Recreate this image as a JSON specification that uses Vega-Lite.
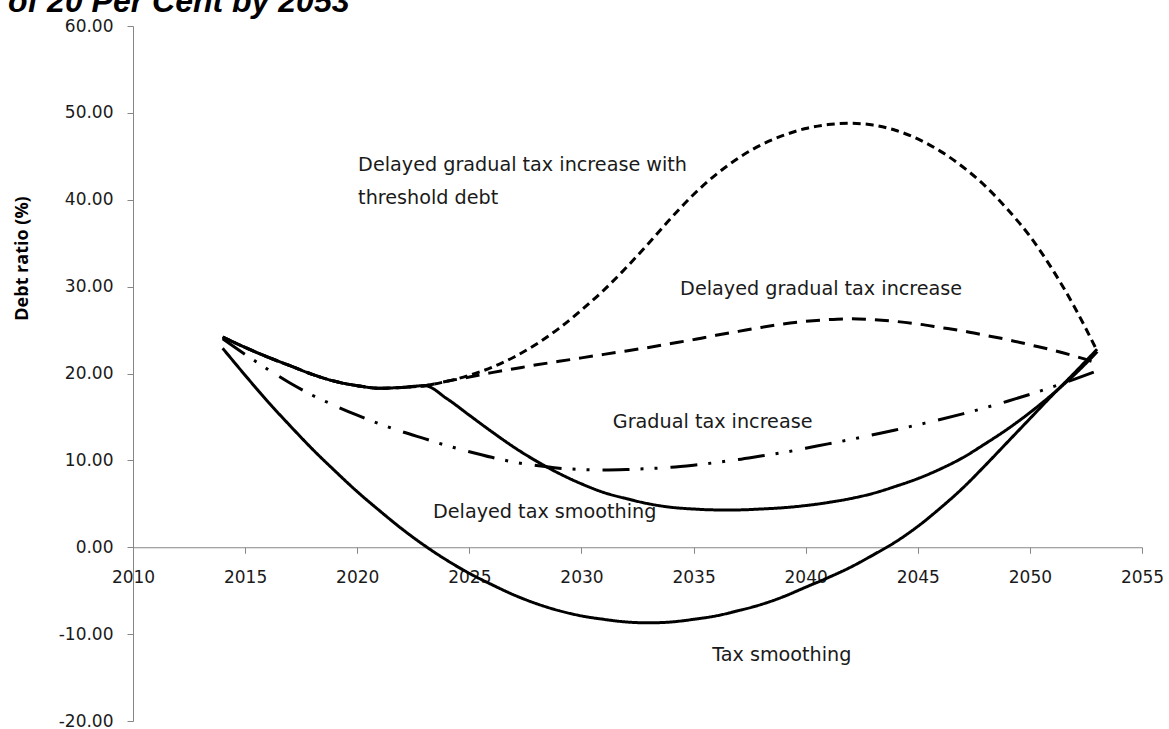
{
  "$schema": "https://vega.github.io/schema/vega-lite/v6.json",
  "autosize": {"type": "none"},
  "width": 1009,
  "height": 695,
  "padding": {"left": 133, "top": 26, "right": 27, "bottom": 8},
  "background": "white",
  "title": {
    "text": "of 20 Per Cent by 2053",
    "anchor": "start",
    "frame": "group",
    "dx": -125,
    "dy": 27,
    "offset": 0,
    "baseline": "alphabetic",
    "font": "Liberation Sans",
    "fontSize": 32,
    "fontWeight": "bold",
    "fontStyle": "italic",
    "color": "#000000"
  },
  "config": {
    "view": {"stroke": null},
    "axis": {
      "grid": false,
      "domainColor": "#868686",
      "tickColor": "#868686",
      "labelFont": "DejaVu Sans",
      "labelFontSize": 17,
      "labelColor": "#1a1a1a",
      "titleFont": "Open Sans",
      "titleColor": "#000000"
    }
  },
  "layer": [
    {
      "data": {
        "values": [
          {"series": "Tax smoothing", "year": 2014, "value": 22.9},
          {"series": "Tax smoothing", "year": 2015, "value": 19.8},
          {"series": "Tax smoothing", "year": 2016, "value": 16.8},
          {"series": "Tax smoothing", "year": 2017, "value": 14.0},
          {"series": "Tax smoothing", "year": 2018, "value": 11.3},
          {"series": "Tax smoothing", "year": 2019, "value": 8.8},
          {"series": "Tax smoothing", "year": 2020, "value": 6.4},
          {"series": "Tax smoothing", "year": 2021, "value": 4.2},
          {"series": "Tax smoothing", "year": 2022, "value": 2.1},
          {"series": "Tax smoothing", "year": 2023, "value": 0.2},
          {"series": "Tax smoothing", "year": 2024, "value": -1.5},
          {"series": "Tax smoothing", "year": 2025, "value": -3.0},
          {"series": "Tax smoothing", "year": 2026, "value": -4.3},
          {"series": "Tax smoothing", "year": 2027, "value": -5.5},
          {"series": "Tax smoothing", "year": 2028, "value": -6.5},
          {"series": "Tax smoothing", "year": 2029, "value": -7.3},
          {"series": "Tax smoothing", "year": 2030, "value": -7.9},
          {"series": "Tax smoothing", "year": 2031, "value": -8.3},
          {"series": "Tax smoothing", "year": 2032, "value": -8.6},
          {"series": "Tax smoothing", "year": 2033, "value": -8.7},
          {"series": "Tax smoothing", "year": 2034, "value": -8.6},
          {"series": "Tax smoothing", "year": 2035, "value": -8.3},
          {"series": "Tax smoothing", "year": 2036, "value": -7.9},
          {"series": "Tax smoothing", "year": 2037, "value": -7.3},
          {"series": "Tax smoothing", "year": 2038, "value": -6.6},
          {"series": "Tax smoothing", "year": 2039, "value": -5.7},
          {"series": "Tax smoothing", "year": 2040, "value": -4.6},
          {"series": "Tax smoothing", "year": 2041, "value": -3.5},
          {"series": "Tax smoothing", "year": 2042, "value": -2.3},
          {"series": "Tax smoothing", "year": 2043, "value": -0.9},
          {"series": "Tax smoothing", "year": 2044, "value": 0.6},
          {"series": "Tax smoothing", "year": 2045, "value": 2.4},
          {"series": "Tax smoothing", "year": 2046, "value": 4.5},
          {"series": "Tax smoothing", "year": 2047, "value": 6.8},
          {"series": "Tax smoothing", "year": 2048, "value": 9.4},
          {"series": "Tax smoothing", "year": 2049, "value": 12.1},
          {"series": "Tax smoothing", "year": 2050, "value": 14.8},
          {"series": "Tax smoothing", "year": 2051, "value": 17.5},
          {"series": "Tax smoothing", "year": 2052, "value": 20.1},
          {"series": "Tax smoothing", "year": 2053, "value": 22.8},

          {"series": "Delayed tax smoothing", "year": 2014, "value": 24.2},
          {"series": "Delayed tax smoothing", "year": 2015, "value": 23.0},
          {"series": "Delayed tax smoothing", "year": 2016, "value": 21.9},
          {"series": "Delayed tax smoothing", "year": 2017, "value": 20.9},
          {"series": "Delayed tax smoothing", "year": 2018, "value": 19.9},
          {"series": "Delayed tax smoothing", "year": 2019, "value": 19.1},
          {"series": "Delayed tax smoothing", "year": 2020, "value": 18.6},
          {"series": "Delayed tax smoothing", "year": 2021, "value": 18.3},
          {"series": "Delayed tax smoothing", "year": 2022, "value": 18.4},
          {"series": "Delayed tax smoothing", "year": 2023, "value": 18.6},
          {"series": "Delayed tax smoothing", "year": 2024, "value": 17.1},
          {"series": "Delayed tax smoothing", "year": 2025, "value": 15.2},
          {"series": "Delayed tax smoothing", "year": 2026, "value": 13.3},
          {"series": "Delayed tax smoothing", "year": 2027, "value": 11.5},
          {"series": "Delayed tax smoothing", "year": 2028, "value": 9.9},
          {"series": "Delayed tax smoothing", "year": 2029, "value": 8.5},
          {"series": "Delayed tax smoothing", "year": 2030, "value": 7.3},
          {"series": "Delayed tax smoothing", "year": 2031, "value": 6.3},
          {"series": "Delayed tax smoothing", "year": 2032, "value": 5.6},
          {"series": "Delayed tax smoothing", "year": 2033, "value": 5.0},
          {"series": "Delayed tax smoothing", "year": 2034, "value": 4.6},
          {"series": "Delayed tax smoothing", "year": 2035, "value": 4.4},
          {"series": "Delayed tax smoothing", "year": 2036, "value": 4.3},
          {"series": "Delayed tax smoothing", "year": 2037, "value": 4.3},
          {"series": "Delayed tax smoothing", "year": 2038, "value": 4.4},
          {"series": "Delayed tax smoothing", "year": 2039, "value": 4.55},
          {"series": "Delayed tax smoothing", "year": 2040, "value": 4.8},
          {"series": "Delayed tax smoothing", "year": 2041, "value": 5.15},
          {"series": "Delayed tax smoothing", "year": 2042, "value": 5.6},
          {"series": "Delayed tax smoothing", "year": 2043, "value": 6.2},
          {"series": "Delayed tax smoothing", "year": 2044, "value": 7.0},
          {"series": "Delayed tax smoothing", "year": 2045, "value": 7.9},
          {"series": "Delayed tax smoothing", "year": 2046, "value": 9.0},
          {"series": "Delayed tax smoothing", "year": 2047, "value": 10.3},
          {"series": "Delayed tax smoothing", "year": 2048, "value": 11.9},
          {"series": "Delayed tax smoothing", "year": 2049, "value": 13.6},
          {"series": "Delayed tax smoothing", "year": 2050, "value": 15.5},
          {"series": "Delayed tax smoothing", "year": 2051, "value": 17.6},
          {"series": "Delayed tax smoothing", "year": 2052, "value": 19.9},
          {"series": "Delayed tax smoothing", "year": 2053, "value": 22.5},

          {"series": "Gradual tax increase", "year": 2014, "value": 24.0},
          {"series": "Gradual tax increase", "year": 2015, "value": 22.2},
          {"series": "Gradual tax increase", "year": 2016, "value": 20.5},
          {"series": "Gradual tax increase", "year": 2017, "value": 18.9},
          {"series": "Gradual tax increase", "year": 2018, "value": 17.5},
          {"series": "Gradual tax increase", "year": 2019, "value": 16.3},
          {"series": "Gradual tax increase", "year": 2020, "value": 15.2},
          {"series": "Gradual tax increase", "year": 2021, "value": 14.2},
          {"series": "Gradual tax increase", "year": 2022, "value": 13.3},
          {"series": "Gradual tax increase", "year": 2023, "value": 12.5},
          {"series": "Gradual tax increase", "year": 2024, "value": 11.7},
          {"series": "Gradual tax increase", "year": 2025, "value": 11.0},
          {"series": "Gradual tax increase", "year": 2026, "value": 10.35},
          {"series": "Gradual tax increase", "year": 2027, "value": 9.8},
          {"series": "Gradual tax increase", "year": 2028, "value": 9.4},
          {"series": "Gradual tax increase", "year": 2029, "value": 9.1},
          {"series": "Gradual tax increase", "year": 2030, "value": 8.95},
          {"series": "Gradual tax increase", "year": 2031, "value": 8.9},
          {"series": "Gradual tax increase", "year": 2032, "value": 8.95},
          {"series": "Gradual tax increase", "year": 2033, "value": 9.05},
          {"series": "Gradual tax increase", "year": 2034, "value": 9.2},
          {"series": "Gradual tax increase", "year": 2035, "value": 9.45},
          {"series": "Gradual tax increase", "year": 2036, "value": 9.75},
          {"series": "Gradual tax increase", "year": 2037, "value": 10.1},
          {"series": "Gradual tax increase", "year": 2038, "value": 10.5},
          {"series": "Gradual tax increase", "year": 2039, "value": 10.9},
          {"series": "Gradual tax increase", "year": 2040, "value": 11.4},
          {"series": "Gradual tax increase", "year": 2041, "value": 11.9},
          {"series": "Gradual tax increase", "year": 2042, "value": 12.4},
          {"series": "Gradual tax increase", "year": 2043, "value": 12.95},
          {"series": "Gradual tax increase", "year": 2044, "value": 13.5},
          {"series": "Gradual tax increase", "year": 2045, "value": 14.1},
          {"series": "Gradual tax increase", "year": 2046, "value": 14.7},
          {"series": "Gradual tax increase", "year": 2047, "value": 15.35},
          {"series": "Gradual tax increase", "year": 2048, "value": 16.05},
          {"series": "Gradual tax increase", "year": 2049, "value": 16.8},
          {"series": "Gradual tax increase", "year": 2050, "value": 17.6},
          {"series": "Gradual tax increase", "year": 2051, "value": 18.45},
          {"series": "Gradual tax increase", "year": 2052, "value": 19.35},
          {"series": "Gradual tax increase", "year": 2053, "value": 20.3},

          {"series": "Delayed gradual tax increase", "year": 2014, "value": 24.2},
          {"series": "Delayed gradual tax increase", "year": 2015, "value": 23.0},
          {"series": "Delayed gradual tax increase", "year": 2016, "value": 21.9},
          {"series": "Delayed gradual tax increase", "year": 2017, "value": 20.9},
          {"series": "Delayed gradual tax increase", "year": 2018, "value": 19.9},
          {"series": "Delayed gradual tax increase", "year": 2019, "value": 19.1},
          {"series": "Delayed gradual tax increase", "year": 2020, "value": 18.6},
          {"series": "Delayed gradual tax increase", "year": 2021, "value": 18.3},
          {"series": "Delayed gradual tax increase", "year": 2022, "value": 18.4},
          {"series": "Delayed gradual tax increase", "year": 2023, "value": 18.6},
          {"series": "Delayed gradual tax increase", "year": 2024, "value": 19.1},
          {"series": "Delayed gradual tax increase", "year": 2025, "value": 19.6},
          {"series": "Delayed gradual tax increase", "year": 2026, "value": 20.1},
          {"series": "Delayed gradual tax increase", "year": 2027, "value": 20.55},
          {"series": "Delayed gradual tax increase", "year": 2028, "value": 21.0},
          {"series": "Delayed gradual tax increase", "year": 2029, "value": 21.4},
          {"series": "Delayed gradual tax increase", "year": 2030, "value": 21.8},
          {"series": "Delayed gradual tax increase", "year": 2031, "value": 22.2},
          {"series": "Delayed gradual tax increase", "year": 2032, "value": 22.6},
          {"series": "Delayed gradual tax increase", "year": 2033, "value": 23.0},
          {"series": "Delayed gradual tax increase", "year": 2034, "value": 23.45},
          {"series": "Delayed gradual tax increase", "year": 2035, "value": 23.9},
          {"series": "Delayed gradual tax increase", "year": 2036, "value": 24.4},
          {"series": "Delayed gradual tax increase", "year": 2037, "value": 24.85},
          {"series": "Delayed gradual tax increase", "year": 2038, "value": 25.3},
          {"series": "Delayed gradual tax increase", "year": 2039, "value": 25.7},
          {"series": "Delayed gradual tax increase", "year": 2040, "value": 26.0},
          {"series": "Delayed gradual tax increase", "year": 2041, "value": 26.2},
          {"series": "Delayed gradual tax increase", "year": 2042, "value": 26.3},
          {"series": "Delayed gradual tax increase", "year": 2043, "value": 26.2},
          {"series": "Delayed gradual tax increase", "year": 2044, "value": 26.0},
          {"series": "Delayed gradual tax increase", "year": 2045, "value": 25.7},
          {"series": "Delayed gradual tax increase", "year": 2046, "value": 25.3},
          {"series": "Delayed gradual tax increase", "year": 2047, "value": 24.9},
          {"series": "Delayed gradual tax increase", "year": 2048, "value": 24.4},
          {"series": "Delayed gradual tax increase", "year": 2049, "value": 23.9},
          {"series": "Delayed gradual tax increase", "year": 2050, "value": 23.3},
          {"series": "Delayed gradual tax increase", "year": 2051, "value": 22.7},
          {"series": "Delayed gradual tax increase", "year": 2052, "value": 22.0},
          {"series": "Delayed gradual tax increase", "year": 2053, "value": 21.2},

          {"series": "Delayed gradual tax increase with threshold debt", "year": 2014, "value": 24.2},
          {"series": "Delayed gradual tax increase with threshold debt", "year": 2015, "value": 23.0},
          {"series": "Delayed gradual tax increase with threshold debt", "year": 2016, "value": 21.9},
          {"series": "Delayed gradual tax increase with threshold debt", "year": 2017, "value": 20.9},
          {"series": "Delayed gradual tax increase with threshold debt", "year": 2018, "value": 19.9},
          {"series": "Delayed gradual tax increase with threshold debt", "year": 2019, "value": 19.1},
          {"series": "Delayed gradual tax increase with threshold debt", "year": 2020, "value": 18.6},
          {"series": "Delayed gradual tax increase with threshold debt", "year": 2021, "value": 18.3},
          {"series": "Delayed gradual tax increase with threshold debt", "year": 2022, "value": 18.4},
          {"series": "Delayed gradual tax increase with threshold debt", "year": 2023, "value": 18.6},
          {"series": "Delayed gradual tax increase with threshold debt", "year": 2024, "value": 19.1},
          {"series": "Delayed gradual tax increase with threshold debt", "year": 2025, "value": 19.8},
          {"series": "Delayed gradual tax increase with threshold debt", "year": 2026, "value": 20.7},
          {"series": "Delayed gradual tax increase with threshold debt", "year": 2027, "value": 21.9},
          {"series": "Delayed gradual tax increase with threshold debt", "year": 2028, "value": 23.4},
          {"series": "Delayed gradual tax increase with threshold debt", "year": 2029, "value": 25.2},
          {"series": "Delayed gradual tax increase with threshold debt", "year": 2030, "value": 27.3},
          {"series": "Delayed gradual tax increase with threshold debt", "year": 2031, "value": 29.6},
          {"series": "Delayed gradual tax increase with threshold debt", "year": 2032, "value": 32.2},
          {"series": "Delayed gradual tax increase with threshold debt", "year": 2033, "value": 35.0},
          {"series": "Delayed gradual tax increase with threshold debt", "year": 2034, "value": 37.9},
          {"series": "Delayed gradual tax increase with threshold debt", "year": 2035, "value": 40.6},
          {"series": "Delayed gradual tax increase with threshold debt", "year": 2036, "value": 42.9},
          {"series": "Delayed gradual tax increase with threshold debt", "year": 2037, "value": 44.8},
          {"series": "Delayed gradual tax increase with threshold debt", "year": 2038, "value": 46.3},
          {"series": "Delayed gradual tax increase with threshold debt", "year": 2039, "value": 47.4},
          {"series": "Delayed gradual tax increase with threshold debt", "year": 2040, "value": 48.2},
          {"series": "Delayed gradual tax increase with threshold debt", "year": 2041, "value": 48.65},
          {"series": "Delayed gradual tax increase with threshold debt", "year": 2042, "value": 48.8},
          {"series": "Delayed gradual tax increase with threshold debt", "year": 2043, "value": 48.6},
          {"series": "Delayed gradual tax increase with threshold debt", "year": 2044, "value": 48.0},
          {"series": "Delayed gradual tax increase with threshold debt", "year": 2045, "value": 47.0},
          {"series": "Delayed gradual tax increase with threshold debt", "year": 2046, "value": 45.6},
          {"series": "Delayed gradual tax increase with threshold debt", "year": 2047, "value": 43.8},
          {"series": "Delayed gradual tax increase with threshold debt", "year": 2048, "value": 41.6},
          {"series": "Delayed gradual tax increase with threshold debt", "year": 2049, "value": 38.9},
          {"series": "Delayed gradual tax increase with threshold debt", "year": 2050, "value": 35.8},
          {"series": "Delayed gradual tax increase with threshold debt", "year": 2051, "value": 32.0},
          {"series": "Delayed gradual tax increase with threshold debt", "year": 2052, "value": 27.6},
          {"series": "Delayed gradual tax increase with threshold debt", "year": 2053, "value": 22.6}
        ]
      },
      "mark": {"type": "line", "color": "#000000", "strokeWidth": 3, "interpolate": "monotone"},
      "encoding": {
        "x": {
          "field": "year",
          "type": "quantitative",
          "scale": {"domain": [2010, 2055], "nice": false, "zero": false},
          "axis": {
            "title": null,
            "values": [2010, 2015, 2020, 2025, 2030, 2035, 2040, 2045, 2050, 2055],
            "format": "d",
            "offset": -173.75,
            "tickSize": 6,
            "labelPadding": 16,
            "labelFlush": false
          }
        },
        "y": {
          "field": "value",
          "type": "quantitative",
          "scale": {"domain": [-20, 60], "nice": false, "zero": false},
          "axis": {
            "title": "Debt ratio (%)",
            "titleFontSize": 18,
            "titleFontWeight": "bold",
            "titleAngle": -90,
            "titleX": -111,
            "titleY": 232,
            "titleAlign": "center",
            "titleBaseline": "middle",
            "values": [-20, -10, 0, 10, 20, 30, 40, 50, 60],
            "labelExpr": "replace(format(datum.value, '.2f'), '\u2212', '-')",
            "tickSize": 6,
            "labelPadding": 14
          }
        },
        "detail": {"field": "series"},
        "strokeDash": {
          "field": "series",
          "type": "nominal",
          "legend": null,
          "scale": {
            "domain": ["Tax smoothing", "Delayed tax smoothing", "Gradual tax increase", "Delayed gradual tax increase", "Delayed gradual tax increase with threshold debt"],
            "range": [[1, 0], [1, 0], [27, 11, 3, 11, 3, 13], [14, 9], [8, 5]]
          }
        }
      }
    },
    {
      "data": {
        "values": [
          {"label": "Delayed gradual tax increase with", "year": 2020.04, "value": 43.96},
          {"label": "threshold debt", "year": 2020.04, "value": 40.16},
          {"label": "Delayed gradual tax increase", "year": 2034.4, "value": 29.7},
          {"label": "Gradual tax increase", "year": 2031.4, "value": 14.4},
          {"label": "Delayed tax smoothing", "year": 2023.38, "value": 4.03},
          {"label": "Tax smoothing", "year": 2035.83, "value": -12.43}
        ]
      },
      "mark": {"type": "text", "align": "left", "baseline": "middle", "font": "DejaVu Sans", "fontSize": 19.2, "color": "#1a1a1a"},
      "encoding": {
        "x": {"field": "year", "type": "quantitative"},
        "y": {"field": "value", "type": "quantitative"},
        "text": {"field": "label"}
      }
    }
  ]
}
